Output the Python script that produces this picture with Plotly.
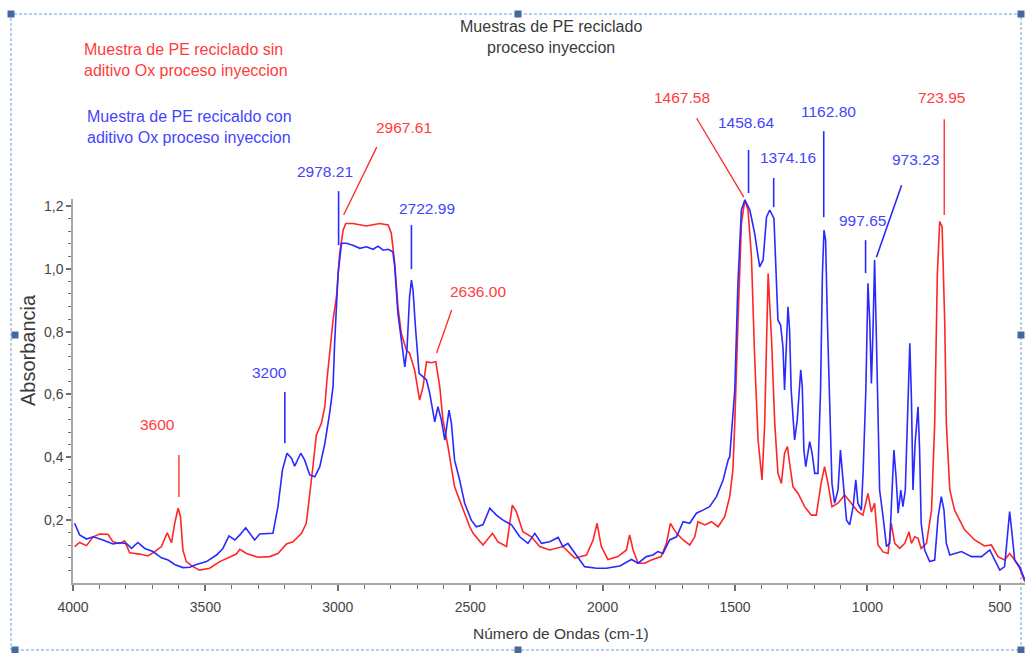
import plotly.graph_objects as go

# ---------------- data ----------------
blue_wn = [3994,3975,3949,3924,3887,3849,3824,3798,3779,3755,
           3729,3698,3666,3641,3616,3585,3559,3534,3496,3458,
           3434,3411,3389,3370,3348,3333,3314,3295,3270,3245,
           3226,3209,3192,3175,3163,3140,3125,3106,3087,3068,
           3049,3031,3018,3012,2999,2986,2968,2943,2917,2892,
           2867,2848,2829,2810,2792,2785,2773,2760,2747,2739,
           2729,2722,2716,2706,2693,2678,2665,2653,2634,2622,
           2609,2596,2580,2571,2559,2540,2521,2496,2477,2452,
           2426,2401,2376,2344,2313,2282,2256,2231,2200,2168,
           2150,2131,2105,2068,2023,1986,1935,1891,1866,1835,
           1810,1791,1772,1747,1721,1696,1671,1646,1621,1596,
           1570,1545,1526,1520,1501,1489,1476,1463,1444,1426,
           1407,1394,1381,1369,1353,1344,1338,1328,1319,1313,
           1306,1300,1294,1288,1275,1265,1252,1246,1240,1233,
           1218,1209,1199,1187,1177,1170,1164,1158,1151,1142,
           1134,1124,1111,1102,1092,1079,1067,1054,1044,1036,
           1023,1016,1006,998,991,985,979,973,966,960,
           954,941,928,916,907,900,892,884,874,866,
           857,849,840,834,828,820,809,803,797,784,
           765,746,733,721,711,702,689,645,607,569,
           538,519,500,482,463,454,444,425,406]
blue_abs = [0.190,0.153,0.140,0.147,0.137,0.124,0.128,0.126,0.110,0.129,
            0.110,0.100,0.080,0.073,0.059,0.049,0.050,0.059,0.068,0.089,
            0.110,0.150,0.137,0.153,0.176,0.158,0.137,0.156,0.156,0.158,
            0.243,0.360,0.413,0.397,0.372,0.413,0.391,0.344,0.338,0.370,
            0.444,0.540,0.625,0.763,0.985,1.081,1.081,1.075,1.065,1.070,
            1.062,1.072,1.059,1.062,1.054,1.006,0.858,0.773,0.688,0.741,
            0.911,0.964,0.932,0.805,0.667,0.656,0.646,0.604,0.513,0.561,
            0.519,0.455,0.550,0.508,0.391,0.328,0.254,0.200,0.179,0.185,
            0.238,0.216,0.200,0.185,0.147,0.126,0.158,0.126,0.131,0.145,
            0.116,0.126,0.094,0.052,0.047,0.047,0.054,0.075,0.063,0.084,
            0.089,0.100,0.094,0.137,0.147,0.195,0.190,0.222,0.232,0.243,
            0.275,0.328,0.391,0.402,0.614,0.954,1.187,1.219,1.187,1.113,
            1.006,1.028,1.165,1.187,1.160,0.985,0.837,0.821,0.752,0.614,
            0.773,0.879,0.805,0.614,0.455,0.519,0.678,0.625,0.423,0.370,
            0.450,0.413,0.349,0.349,0.614,0.985,1.123,1.091,0.826,0.508,
            0.317,0.254,0.296,0.423,0.317,0.200,0.185,0.243,0.328,0.254,
            0.232,0.360,0.614,0.954,0.826,0.635,0.805,1.028,0.773,0.508,
            0.296,0.211,0.116,0.126,0.328,0.423,0.338,0.222,0.296,0.243,
            0.296,0.529,0.763,0.593,0.296,0.444,0.561,0.423,0.190,0.105,
            0.068,0.073,0.211,0.275,0.232,0.126,0.089,0.100,0.084,0.084,
            0.105,0.073,0.041,0.052,0.227,0.158,0.073,0.052,0.010]

red_wn = [3994,3975,3949,3924,3899,3868,3849,3824,3805,3786,
          3748,3717,3691,3666,3644,3628,3616,3603,3594,3585,
          3572,3547,3522,3484,3446,3408,3383,3370,3345,3301,
          3257,3226,3194,3169,3137,3119,3106,3094,3081,3062,
          3049,3041,3018,3005,2993,2980,2970,2943,2892,2842,
          2810,2798,2785,2773,2760,2741,2729,2710,2691,2678,
          2665,2647,2630,2615,2603,2584,2559,2527,2502,2489,
          2452,2416,2395,2363,2341,2326,2301,2269,2238,2200,
          2150,2105,2061,2036,2021,2005,1980,1942,1910,1898,
          1885,1866,1841,1816,1779,1759,1744,1721,1696,1671,
          1652,1640,1614,1589,1564,1539,1520,1508,1501,1489,
          1476,1463,1451,1438,1426,1413,1398,1388,1381,1375,
          1362,1350,1338,1325,1313,1302,1294,1281,1262,1237,
          1212,1193,1175,1162,1149,1134,1111,1086,1061,1036,
          1017,998,985,973,960,941,922,910,897,878,
          859,843,834,821,809,797,777,758,746,736,
          727,718,708,702,689,671,633,595,558,532,
          507,482,463,444,425,406]
red_abs = [0.116,0.129,0.119,0.147,0.156,0.155,0.131,0.126,0.134,0.096,
           0.092,0.086,0.100,0.116,0.160,0.128,0.190,0.238,0.211,0.105,
           0.068,0.052,0.041,0.047,0.068,0.084,0.092,0.107,0.094,0.082,
           0.084,0.094,0.124,0.131,0.158,0.190,0.275,0.370,0.471,0.508,
           0.561,0.646,0.837,0.911,1.049,1.123,1.144,1.144,1.136,1.144,
           1.139,1.113,1.017,0.879,0.794,0.741,0.731,0.678,0.582,0.625,
           0.704,0.701,0.704,0.625,0.519,0.434,0.306,0.232,0.179,0.158,
           0.121,0.158,0.131,0.116,0.248,0.227,0.163,0.147,0.116,0.105,
           0.116,0.079,0.089,0.137,0.190,0.116,0.075,0.084,0.105,0.153,
           0.105,0.063,0.063,0.073,0.084,0.126,0.190,0.158,0.137,0.121,
           0.147,0.195,0.185,0.195,0.179,0.211,0.275,0.360,0.508,0.826,
           1.144,1.219,1.187,1.038,0.720,0.455,0.328,0.508,0.826,0.985,
           0.773,0.508,0.349,0.317,0.413,0.434,0.381,0.306,0.285,0.243,
           0.216,0.216,0.317,0.370,0.317,0.243,0.254,0.280,0.254,0.227,
           0.216,0.285,0.226,0.254,0.121,0.099,0.094,0.190,0.126,0.110,
           0.126,0.163,0.126,0.147,0.142,0.110,0.126,0.232,0.508,0.985,
           1.150,1.134,0.826,0.508,0.296,0.232,0.169,0.137,0.118,0.121,
           0.084,0.073,0.094,0.073,0.047,0.004]

x_ticks = [4000, 3500, 3000, 2500, 2000, 1500, 1000, 500]
y_ticks = [0.2, 0.4, 0.6, 0.8, 1.0, 1.2]

# peak labels: text, colour key, label centre (wn, abs), leader line tail (wn, abs), head (wn, abs)
peak_text  = ["3600", "3200", "2978.21", "2967.61", "2722.99", "2636.00", "1467.58",
              "1458.64", "1374.16", "1162.80", "997.65", "973.23", "723.95"]
peak_color = ["r", "b", "b", "r", "b", "r", "r", "b", "b", "b", "b", "b", "r"]
label_wn   = [3680, 3257, 3050, 2751, 2665, 2472, 1701, 1460, 1301, 1146, 1018, 818, 720]
label_abs  = [0.503, 0.671, 1.308, 1.448, 1.193, 0.929, 1.546, 1.467, 1.355, 1.499, 1.155, 1.349, 1.546]
tail_wn    = [3600, 3200, 2997, 2853, 2722, 2570, 1645, 1449, 1354, 1165, 1007, 871, 710]
tail_abs   = [0.407, 0.608, 1.247, 1.387, 1.139, 0.869, 1.479, 1.378, 1.289, 1.438, 1.091, 1.266, 1.476]
head_wn    = [3600, 3200, 2997, 2978, 2722, 2627, 1467, 1449, 1354, 1165, 1007, 966, 710]
head_abs   = [0.274, 0.445, 1.075, 1.171, 0.999, 0.732, 1.228, 1.241, 1.196, 1.164, 0.986, 1.037, 1.171]

# ---------------- styling / layout ----------------
W, H = 1026, 653
ML, MR, MT, MB = 73, 1, 199, 70
XR = [4000, 405]
YR = [0, 1.222]
PW = W - ML - MR
PH = H - MT - MB

RED_LINE, BLUE_LINE = "#ff2626", "#2a2aff"
RED_TXT, BLUE_TXT = "#ff3c3c", "#4444ff"
FONT = "Liberation Sans, Arial, sans-serif"


def fx(wn):
    return (XR[0] - wn) / (XR[0] - XR[1])


def fy(a):
    return (a - YR[0]) / (YR[1] - YR[0])


def ppx(px):
    return (px - ML) / PW


def ppy(py):
    return (H - MB - py) / PH


fig = go.Figure()
fig.add_trace(go.Scatter(x=red_wn, y=red_abs, mode="lines",
                         line=dict(color=RED_LINE, width=1.6), showlegend=False,
                         name="sin aditivo"))
fig.add_trace(go.Scatter(x=blue_wn, y=blue_abs, mode="lines",
                         line=dict(color=BLUE_LINE, width=1.6), showlegend=False,
                         name="con aditivo"))

shapes = []
annotations = []

for t, c, lw, la, tw, ta, hw, ha in zip(peak_text, peak_color, label_wn, label_abs,
                                         tail_wn, tail_abs, head_wn, head_abs):
    col_l = RED_LINE if c == "r" else BLUE_LINE
    col_t = RED_TXT if c == "r" else BLUE_TXT
    shapes.append(dict(type="line", xref="paper", yref="paper",
                       x0=fx(tw), y0=fy(ta), x1=fx(hw), y1=fy(ha),
                       line=dict(color=col_l, width=1.6 if c == "b" else 1.3)))
    annotations.append(dict(text=t, xref="paper", yref="paper", x=fx(lw), y=fy(la),
                            xanchor="center", yanchor="middle", showarrow=False,
                            font=dict(family=FONT, size=15.5, color=col_t)))

# title and legend texts
annotations.append(dict(text="Muestras de PE reciclado<br>proceso inyeccion",
                        xref="paper", yref="paper", x=ppx(551), y=ppy(37),
                        xanchor="center", yanchor="middle", showarrow=False, align="center",
                        font=dict(family=FONT, size=16, color="#3a3a3a")))
annotations.append(dict(text="Muestra de PE reciclado sin<br>aditivo Ox proceso inyeccion",
                        xref="paper", yref="paper", x=ppx(82), y=ppy(60),
                        xanchor="left", yanchor="middle", showarrow=False, align="left",
                        font=dict(family=FONT, size=16, color=RED_TXT)))
annotations.append(dict(text="Muestra de PE recicaldo con<br>aditivo Ox proceso inyeccion",
                        xref="paper", yref="paper", x=ppx(85), y=ppy(127),
                        xanchor="left", yanchor="middle", showarrow=False, align="left",
                        font=dict(family=FONT, size=16, color=BLUE_TXT)))
# axis titles
annotations.append(dict(text="Número de Ondas (cm-1)", xref="paper", yref="paper",
                        x=ppx(561), y=ppy(633), xanchor="center", yanchor="middle",
                        showarrow=False, font=dict(family=FONT, size=15.5, color="#3a3a3a")))
annotations.append(dict(text="Absorbancia", xref="paper", yref="paper",
                        x=ppx(28), y=ppy(350), xanchor="center", yanchor="middle",
                        textangle=-90, showarrow=False,
                        font=dict(family=FONT, size=20, color="#3a3a3a")))

# selection frame (dashed box with handles)
fx0, fx1, fy0, fy1 = 11, 1021, 14, 650
shapes.append(dict(type="rect", xref="paper", yref="paper",
                   x0=ppx(fx0), x1=ppx(fx1), y0=ppy(fy1), y1=ppy(fy0),
                   line=dict(color="#6f9fdc", width=1, dash="3px,2px"), layer="below"))
handles = [(fx0, fy0), (518, fy0), (fx1, fy0), (15, 335), (fx1, 335),
           (15, fy1), (518, fy1), (fx1, fy1)]
for hx, hy in handles:
    shapes.append(dict(type="rect", xref="paper", yref="paper",
                       x0=ppx(hx - 3.5), x1=ppx(hx + 3.5), y0=ppy(hy + 3.5), y1=ppy(hy - 3.5),
                       line=dict(width=0), fillcolor="#44699e"))

fig.update_layout(
    width=W, height=H,
    margin=dict(l=ML, r=MR, t=MT, b=MB, pad=0),
    paper_bgcolor="white", plot_bgcolor="white",
    separators=", ",
    showlegend=False,
    shapes=shapes, annotations=annotations,
    xaxis=dict(range=XR, tickvals=x_ticks, ticktext=[str(v) for v in x_ticks],
               showgrid=False, zeroline=False, showline=True, automargin=False,
               linecolor="#a8a8a8", linewidth=2, ticks="outside", ticklen=6,
               tickcolor="#707070", tickwidth=1.5,
               minor=dict(dtick=100, ticks="outside", ticklen=4, tickcolor="#707070",
                          tickwidth=1.2, showgrid=False),
               ticklabelstandoff=4,
               tickfont=dict(family=FONT, size=14, color="#454545")),
    yaxis=dict(range=YR, tickmode="array", tickvals=y_ticks, tickformat=".1f",
               showgrid=False, zeroline=False, showline=True, automargin=False,
               linecolor="#a8a8a8", linewidth=1.5, ticks="outside", ticklen=5,
               tickcolor="#707070", tickwidth=1.5,
               minor=dict(tickmode="array",
                          tickvals=[0.04, 0.08, 0.12, 0.16, 0.24, 0.28, 0.32, 0.36,
                                    0.44, 0.48, 0.52, 0.56, 0.64, 0.68, 0.72, 0.76,
                                    0.84, 0.88, 0.92, 0.96, 1.04, 1.08, 1.12, 1.16],
                          ticks="outside", ticklen=3, tickcolor="#707070", tickwidth=1.2,
                          showgrid=False),
               tickfont=dict(family=FONT, size=14, color="#454545")),
)

fig.write_html("out.html", config={"displayModeBar": False},
               post_script="document.body.style.margin='0px';document.body.style.padding='0px';")
